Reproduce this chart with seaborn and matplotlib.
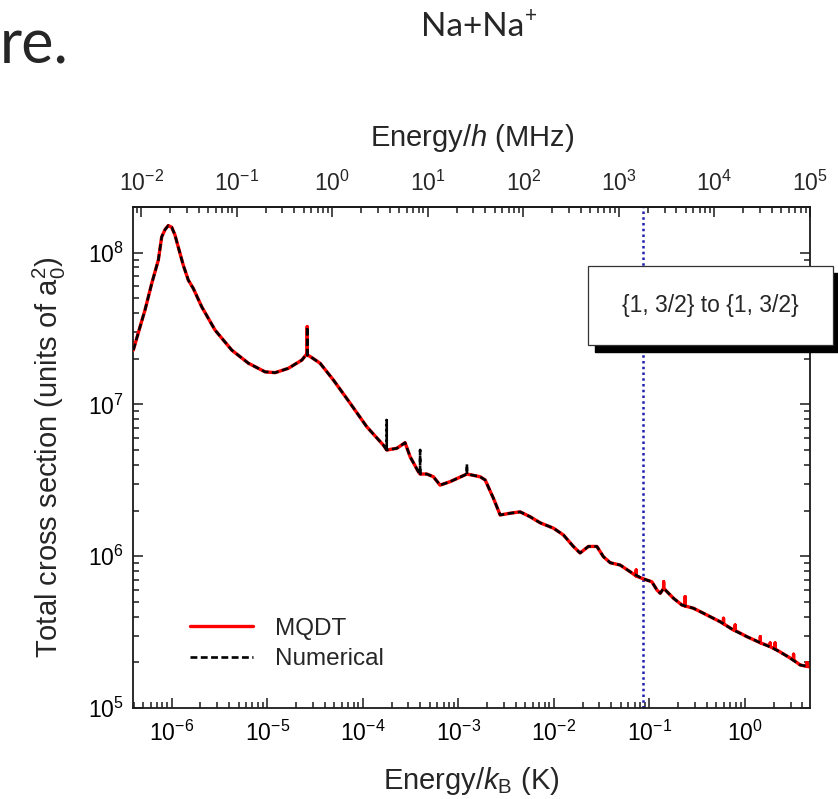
import numpy as np
import pandas as pd
import matplotlib
matplotlib.use("Agg")
import matplotlib.pyplot as plt
import seaborn as sns
from matplotlib.ticker import LogLocator, NullFormatter, FixedLocator, LogFormatterSciNotation
from matplotlib.patches import Rectangle
from matplotlib.lines import Line2D

# ---------------- data ----------------
# common curve: energy / k_B (K) and total cross section (a0^2)
E_base = [3.96e-7, 4.66e-7, 5.25e-7, 6.18e-7, 7.24e-7, 7.85e-7, 8.51e-7, 9.21e-7, 1.00e-6, 1.08e-6,
          1.17e-6, 1.32e-6, 1.49e-6, 1.68e-6, 2.06e-6, 2.84e-6,
          4.25e-6, 6.34e-6, 9.48e-6, 1.21e-5, 1.66e-5, 2.30e-5, 2.59e-5, 2.81e-5, 3.57e-5, 4.92e-5,
          7.36e-5, 1.10e-4, 1.64e-4, 1.78e-4, 2.27e-4, 2.77e-4, 3.13e-4, 3.82e-4, 3.98e-4, 4.68e-4,
          5.48e-4, 6.44e-4, 8.20e-4, 1.23e-3, 1.69e-3, 1.91e-3, 2.33e-3, 2.74e-3, 3.49e-3, 4.44e-3,
          5.65e-3, 7.19e-3, 9.91e-3, 1.26e-2, 1.60e-2, 1.88e-2, 2.30e-2, 2.82e-2, 3.30e-2, 3.89e-2,
          4.94e-2, 6.29e-2, 8.34e-2, 0.106, 0.120, 0.130, 0.141, 0.179, 0.219, 0.290,
          0.400, 0.551, 0.760, 1.05, 1.45, 1.99, 2.75, 3.79, 4.75]
sigma_base = [2.28e7, 3.25e7, 4.19e7, 6.28e7, 8.94e7, 1.27e8, 1.42e8, 1.51e8, 1.47e8, 1.31e8,
              1.09e8, 8.28e7, 6.60e7, 5.82e7, 4.40e7, 3.09e7,
              2.28e7, 1.87e7, 1.64e7, 1.62e7, 1.73e7, 1.96e7, 2.15e7, 2.07e7, 1.87e7, 1.45e7,
              1.02e7, 7.13e6, 5.40e6, 5.01e6, 5.14e6, 5.60e6, 4.52e6, 3.60e6, 3.48e6, 3.48e6,
              3.34e6, 2.94e6, 3.10e6, 3.48e6, 3.34e6, 3.18e6, 2.41e6, 1.87e6, 1.92e6, 1.96e6,
              1.82e6, 1.66e6, 1.53e6, 1.38e6, 1.16e6, 1.05e6, 1.16e6, 1.16e6, 9.93e5, 9.06e5,
              8.75e5, 7.90e5, 7.15e5, 6.79e5, 5.99e5, 5.70e5, 6.15e5, 5.28e5, 4.77e5, 4.54e5,
              4.10e5, 3.70e5, 3.26e5, 2.95e5, 2.69e5, 2.47e5, 2.20e5, 1.92e5, 1.87e5]

# narrow resonance spikes: energy, level at foot, level at tip
mqdt_spike_E    = [2.62e-5, 0.0728, 0.141, 0.237, 0.597, 0.791, 1.45, 1.84, 2.07, 3.23, 4.46]
mqdt_spike_foot = [2.12e7, 7.41e5, 6.15e5, 4.70e5, 3.59e5, 3.24e5, 2.69e5, 2.54e5, 2.45e5, 2.07e5, 1.88e5]
mqdt_spike_tip  = [3.25e7, 8.11e5, 6.79e5, 5.41e5, 3.90e5, 3.52e5, 2.95e5, 2.68e5, 2.68e5, 2.26e5, 1.99e5]

num_spike_E    = [2.62e-5, 1.78e-4, 3.98e-4, 1.23e-3]
num_spike_foot = [2.12e7, 5.01e6, 3.48e6, 3.48e6]
num_spike_tip  = [3.25e7, 7.89e6, 5.01e6, 4.05e6]

series_names = ["MQDT", "Numerical"]
hyperfine_E = 0.085          # K  (vertical dotted marker)
K_to_MHz = 20836.6           # E/h in MHz per kelvin
box_text = "{1, 3/2} to {1, 3/2}"

x_limits = (3.96e-7, 4.8)
y_limits = (1e5, 2.0e8)
bottom_ticks = [1e-6, 1e-5, 1e-4, 1e-3, 1e-2, 1e-1, 1e0]
top_ticks = [1e-2, 1e-1, 1e0, 1e1, 1e2, 1e3, 1e4, 1e5]
left_ticks = [1e5, 1e6, 1e7, 1e8]


def build(spE, spF, spT, name):
    E = list(E_base)
    S = list(sigma_base)
    for e, f, t in zip(spE, spF, spT):
        E += [e, e, e]
        S += [f, t, f]
    E = np.array(E)
    S = np.array(S)
    o = np.argsort(E, kind="stable")
    return pd.DataFrame({"E": E[o], "sigma": S[o], "method": name})


df_m = build(mqdt_spike_E, mqdt_spike_foot, mqdt_spike_tip, series_names[0])
df_n = build(num_spike_E, num_spike_foot, num_spike_tip, series_names[1])

# ---------------- style ----------------
sns.set_theme(style="ticks")
plt.rcParams["font.family"] = ["Liberation Sans", "DejaVu Sans"]
plt.rcParams["mathtext.fontset"] = "custom"
plt.rcParams["mathtext.rm"] = "Liberation Sans"
plt.rcParams["mathtext.it"] = "Liberation Sans:italic"
plt.rcParams["mathtext.bf"] = "Liberation Sans:bold"

W, H = 838, 799
fig = plt.figure(figsize=(W / 100, H / 100), dpi=100)
fig.patch.set_facecolor("white")
L, R, T, B = 133.3, 810.0, 207.0, 708.0
ax = fig.add_axes([L / W, 1 - B / H, (R - L) / W, (B - T) / H])
ax.set_facecolor("white")

sns.lineplot(data=df_m, x="E", y="sigma", ax=ax, color="#ff0000", lw=2.4,
             estimator=None, sort=False, legend=False, zorder=3)
sns.lineplot(data=df_n, x="E", y="sigma", ax=ax, color="black", lw=1.9,
             linestyle=(0, (2.6, 1.3)), estimator=None, sort=False, legend=False, zorder=4)

ax.axvline(hyperfine_E, color="#1f1fb0", lw=1.8, linestyle=(0, (1, 1.3)), zorder=2)

ax.set_xscale("log")
ax.set_yscale("log")
ax.set_xlim(*x_limits)
ax.set_ylim(*y_limits)

secax = ax.secondary_xaxis("top", functions=(lambda x: x * K_to_MHz, lambda x: x / K_to_MHz))

for axis, majors in ((ax.xaxis, bottom_ticks), (ax.yaxis, left_ticks), (secax.xaxis, top_ticks)):
    axis.set_major_locator(FixedLocator(majors))
    axis.set_major_formatter(LogFormatterSciNotation())
    axis.set_minor_locator(LogLocator(base=10, subs=np.arange(2, 10), numticks=300))
    axis.set_minor_formatter(NullFormatter())

tick_col = "#1a1a1a"
ax.tick_params(which="both", direction="in", top=False, right=True, width=1.1,
               color=tick_col, labelcolor="black", labelsize=16.5)
ax.tick_params(which="major", length=7.5)
ax.tick_params(which="minor", length=4.3)
ax.tick_params(axis="x", pad=9)
ax.tick_params(axis="y", pad=7)
secax.tick_params(which="both", direction="in", width=1.1, color=tick_col, labelsize=16.5, pad=8)
secax.tick_params(which="major", length=7.5)
secax.tick_params(which="minor", length=4.3)

for sp in list(ax.spines.values()) + list(secax.spines.values()):
    sp.set_color(tick_col)
    sp.set_linewidth(1.3)

ax.set_xlabel("Energy/$k_\\mathrm{B}$ (K)", fontsize=21, labelpad=14)
secax.set_xlabel("Energy/$h$ (MHz)", fontsize=21, labelpad=18)
ax.set_ylabel("Total cross section (units of $\\mathrm{a}_0^2$)", fontsize=21, labelpad=14)

handles = [Line2D([], [], color="#ff0000", lw=2.4),
           Line2D([], [], color="black", lw=1.9, linestyle=(0, (2.6, 1.3)))]
ax.legend(handles, series_names, loc="lower left", bbox_to_anchor=(0.084, 0.075),
          frameon=False, fontsize=17.5, handlelength=2.6, handletextpad=0.9,
          borderpad=0, borderaxespad=0, labelspacing=0.35)

# annotation box with drop shadow (figure pixel coordinates)
bx0, by0, bx1, by1 = 588, 266, 833, 345
sh = 7
fig.add_artist(Rectangle(((bx0 + sh) / W, 1 - (by1 + sh) / H), (bx1 - bx0) / W, (by1 - by0) / H,
                         transform=fig.transFigure, facecolor="black", edgecolor="black", zorder=10))
fig.add_artist(Rectangle((bx0 / W, 1 - by1 / H), (bx1 - bx0) / W, (by1 - by0) / H,
                         transform=fig.transFigure, facecolor="white", edgecolor="#333333",
                         lw=0.9, zorder=11))
fig.text((bx0 + bx1) / 2 / W, 1 - (by0 + by1) / 2 / H, box_text, ha="center", va="center",
         fontsize=16.5, zorder=12)

# slide texts
fig.text(0.0, 1 - 63 / H, "re.", fontfamily="Lato", fontsize=44, ha="left", va="baseline")
t2 = fig.text(421 / W, 1 - 36 / H, "Na+Na", fontfamily="Lato", fontsize=24, ha="left",
              va="baseline")
fig.canvas.draw()
bb = t2.get_window_extent()
fig.text((bb.x1 + 1) / W, 1 - 22 / H, "+", fontfamily="Lato", fontsize=15, ha="left",
         va="baseline")

fig.savefig("out.png", dpi=100, facecolor="white")
